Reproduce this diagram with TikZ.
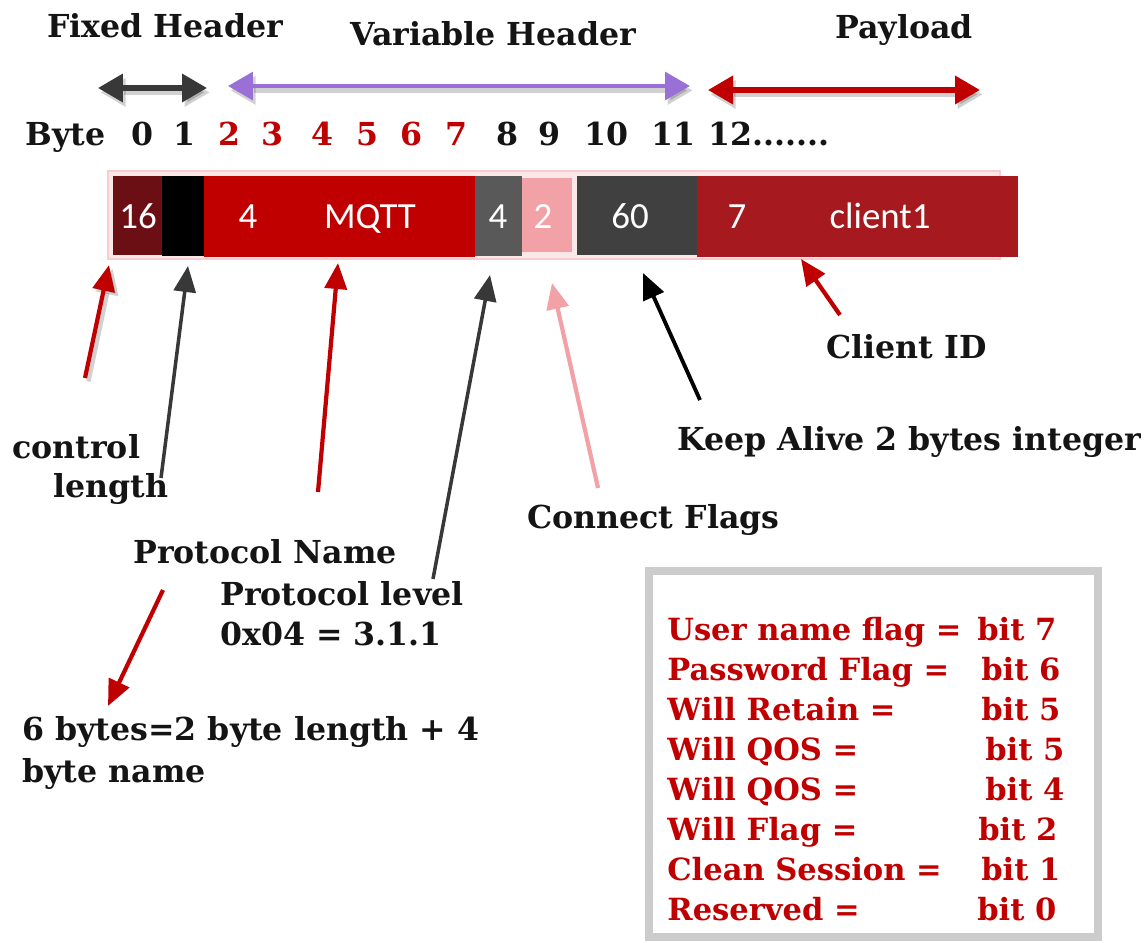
\documentclass[tikz,border=0pt]{standalone}
\usepackage{fontspec}
\setmainfont{DejaVu Serif}
\newfontfamily\fieldfont{Carlito}
\usetikzlibrary{arrows.meta,fit}

\definecolor{mqttred}{HTML}{C00000}
\definecolor{ctlred}{HTML}{6B0F14}
\definecolor{idred}{HTML}{A5191F}
\definecolor{lvlgray}{HTML}{595959}
\definecolor{kagray}{HTML}{404040}
\definecolor{flagpink}{HTML}{F2A2A7}
\definecolor{rowpink}{HTML}{FBE6E8}
\definecolor{rowedge}{HTML}{F6CDD0}
\definecolor{varpurple}{HTML}{9A6FD6}
\definecolor{arrowgray}{HTML}{383838}
\definecolor{ink}{HTML}{141414}

\begin{document}
\begin{tikzpicture}[x=0.02cm,y=-0.02cm,
  lbl/.style={font=\fontsize{18}{21}\selectfont\bfseries, text=ink, inner sep=0pt, anchor=base west},
  num/.style={font=\fontsize{18}{21}\selectfont\bfseries, text=ink, inner sep=0pt, anchor=base},
  rednum/.style={num, text=mqttred},
  flag/.style={font=\fontsize{17.4}{20}\selectfont\bfseries, text=mqttred, inner sep=0pt, anchor=base west},
  field/.style={inner sep=0pt, draw=none},
  ftext/.style={font=\fieldfont\fontsize{21}{25}\selectfont, text=white, inner sep=0pt, anchor=base},
  span/.style={line width=3pt, {Triangle[length=0.5cm,width=0.55cm]}-{Triangle[length=0.5cm,width=0.55cm]}},
  spanshadow/.style={span, draw=black, opacity=0.18, transform canvas={shift={(1.5pt,-2.5pt)}}},
  pointer/.style={line width=2.4pt, -{Triangle[length=0.52cm,width=0.44cm]}},
]
\useasboundingbox (0,0) rectangle (1147,943);

% ---- section titles ----
\node[lbl] (tFixed) at (47,37) {Fixed Header};
\node[lbl] (tVar) at (350,46) {Variable Header};
\node[lbl] (tPay) at (835,38) {Payload};

% ---- section spans ----
\coordinate (fxL) at (98,88);  \coordinate (fxR) at (207,88);
\coordinate (vrL) at (228,86); \coordinate (vrR) at (690,86);
\coordinate (pyL) at (708,90); \coordinate (pyR) at (980,90);
\draw[spanshadow] (fxL) -- (fxR);
\draw[spanshadow] (vrL) -- (vrR);
\draw[spanshadow] (pyL) -- (pyR);
\draw[span, draw=arrowgray] (fxL) -- (fxR);
\draw[span, draw=varpurple, line width=2.6pt] (vrL) -- (vrR);
\draw[span, draw=mqttred] (pyL) -- (pyR);

% ---- byte numbers ----
\node[lbl] (byte) at (25,145) {Byte};
\node[num] (n0) at (143,145) {0};
\node[num] (n1) at (185,145) {1};
\node[rednum] (n2) at (230,145) {2};
\node[rednum] (n3) at (273,145) {3};
\node[rednum] (n4) at (322,145) {4};
\node[rednum] (n5) at (367,145) {5};
\node[rednum] (n6) at (411,145) {6};
\node[rednum] (n7) at (456,145) {7};
\node[num] (n8) at (507,145) {8};
\node[num] (n9) at (549,145) {9};
\node[num] (n10) at (606,145) {10};
\node[num] (n11) at (673,145) {11};
\node[lbl] (n12) at (708,145) {12.......};

% ---- packet fields ----
\node[field, fill=rowpink, draw=rowedge, line width=0.6pt, fit={(108,171)(1000,259)}] (row) {};
\node[field, fill=ctlred, fit={(113,176)(162,255)}] (fCtl) {};
\node[field, fill=black, fit={(162,176)(204,256)}] (fLen) {};
\node[field, fill=mqttred, fit={(204,176)(475,257)}] (fName) {};
\node[field, fill=lvlgray, fit={(475,176)(522,256)}] (fLvl) {};
\node[field, fill=flagpink, fit={(522,178)(572,252)}] (fFlags) {};
\node[field, fill=kagray, fit={(577,176)(697,255)}] (fKeep) {};
\node[field, fill=idred, fit={(697,176)(1018,257)}] (fId) {};

\node[ftext] (v16) at (138,228) {16};
\node[ftext] (v4a) at (248,228) {4};
\node[ftext] (vMQTT) at (370,228) {MQTT};
\node[ftext] (v4b) at (498,228) {4};
\node[ftext] (v2) at (543,228) {2};
\node[ftext] (v60) at (630,228) {60};
\node[ftext] (v7) at (737,228) {7};
\node[ftext] (vClient) at (880,228) {client1};

% ---- field labels ----
\node[lbl] (lCtl) at (12,458) {control};
\node[lbl] (lLen) at (53,497) {length};
\node[lbl] (lPN) at (133,563) {Protocol Name};
\node[lbl] (lPL) at (220,605) {Protocol level};
\node[lbl] (lPV) at (220,645) {0x04 = 3.1.1};
\node[lbl] (lCF) at (527,528) {Connect Flags};
\node[lbl] (lKA) at (677,450) {Keep Alive 2 bytes integer};
\node[lbl] (lCI) at (826,358) {Client ID};
\node[lbl] (lNm1) at (22,740) {6 bytes=2 byte length + 4};
\node[lbl] (lNm2) at (22,782) {byte name};

% ---- pointers ----
\coordinate (tCtl) at (85,378);  \coordinate (hCtl) at (109,265);
\coordinate (tLen) at (161,478); \coordinate (hLen) at (188,266);
\coordinate (tPN) at (318,492);  \coordinate (hPN) at (338,263);
\coordinate (tPL) at (433,579);  \coordinate (hPL) at (490,275);
\coordinate (tCF) at (598,488);  \coordinate (hCF) at (552,283);
\coordinate (tKA) at (700,400);  \coordinate (hKA) at (643,273);
\coordinate (tCI) at (840,315);  \coordinate (hCI) at (801,259);
\coordinate (tNm) at (163,590);  \coordinate (hNm) at (108,706);

\draw[pointer, draw=black, opacity=0.18, transform canvas={shift={(2pt,-2pt)}}] (tCtl) -- (hCtl);
\draw[pointer, draw=mqttred] (tCtl) -- (hCtl);
\draw[pointer, draw=arrowgray, line width=2pt] (tLen) -- (hLen);
\draw[pointer, draw=mqttred] (tPN) -- (hPN);
\draw[pointer, draw=arrowgray, line width=2pt] (tPL) -- (hPL);
\draw[pointer, draw=flagpink] (tCF) -- (hCF);
\draw[pointer, draw=black, line width=2.2pt] (tKA) -- (hKA);
\draw[pointer, draw=mqttred] (tCI) -- (hCI);
\draw[pointer, draw=mqttred] (tNm) -- (hNm);

% ---- connect flags table ----
\node[field, draw=black!20, line width=5pt, fit={(649,571)(1098,937)}] (flagbox) {};
\node[flag] (f1a) at (667,640) {User name flag =};
\node[flag] (f1b) at (977,640) {bit 7};
\node[flag] (f2a) at (667,680) {Password Flag =};
\node[flag] (f2b) at (981,680) {bit 6};
\node[flag] (f3a) at (667,720) {Will Retain =};
\node[flag] (f3b) at (981,720) {bit 5};
\node[flag] (f4a) at (667,760) {Will QOS =};
\node[flag] (f4b) at (985,760) {bit 5};
\node[flag] (f5a) at (667,800) {Will QOS =};
\node[flag] (f5b) at (985,800) {bit 4};
\node[flag] (f6a) at (667,840) {Will Flag =};
\node[flag] (f6b) at (978,840) {bit 2};
\node[flag] (f7a) at (667,880) {Clean Session =};
\node[flag] (f7b) at (981,880) {bit 1};
\node[flag] (f8a) at (667,920) {Reserved =};
\node[flag] (f8b) at (977,920) {bit 0};
\end{tikzpicture}
\end{document}
